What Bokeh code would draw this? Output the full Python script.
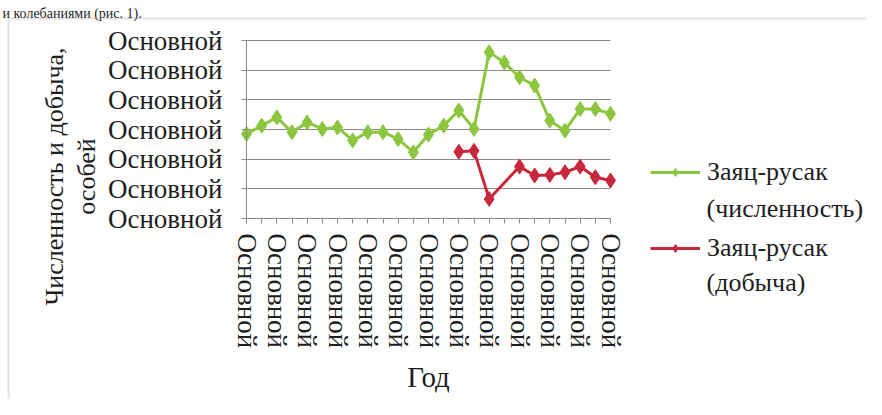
from bokeh.plotting import figure
from bokeh.models import (Range1d, FixedTicker, Label, Legend, LegendItem, BoxAnnotation, Grid)
from bokeh.embed import file_html
from bokeh.resources import INLINE
from bokeh.core import enums

# ---- data ----
categories = list(range(25))
tick_label = "Основной"
y_ticks = [0, 1, 2, 3, 4, 5, 6]
green_vals = [2.85, 3.13, 3.41, 2.91, 3.24, 3.02, 3.07, 2.63, 2.91, 2.91, 2.68, 2.23, 2.83,
              3.13, 3.64, 3.02, 5.60, 5.26, 4.76, 4.48, 3.30, 2.96, 3.69, 3.69, 3.53]
red_x = [14, 15, 16, 18, 19, 20, 21, 22, 23, 24]
red_vals = [2.25, 2.28, 0.66, 1.75, 1.45, 1.47, 1.56, 1.75, 1.39, 1.28]
green_name = "Заяц-русак"
green_sub = "(численность)"
red_name = "Заяц-русак"
red_sub = "(добыча)"
x_title = "Год"
y_title = "Численность и добыча,\nособей"
top_text = "и колебаниями (рис. 1)."

GREEN = "#8cc63f"
RED = "#c8283c"
GRID = "#8a8a8a"
TXT = "#1e1e1e"
FONT = "Liberation Serif"

W, H = 866, 399
X0, X24 = 246.0, 610.0     # pixel of first / last category
Y0, Y6 = 218.0, 40.0       # pixel of value 0 / value 6
U = (X24 - X0) / 24.0
V = (Y0 - Y6) / 6.0

def dx(px):
    return (px - X0) / U

def dy(py):
    return (Y0 - py) / V

p = figure(width=W, height=H, output_backend="svg", toolbar_location=None,
           x_range=Range1d(dx(0), dx(W)), y_range=Range1d(dy(H), dy(0)),
           min_border=0)
p.outline_line_color = None
p.background_fill_color = "white"
p.border_fill_color = "white"

# axes (placed at data location inside the frame)
p.xaxis.fixed_location = 0
p.yaxis.fixed_location = 0
p.xaxis.bounds = (categories[0], categories[-1])
p.yaxis.bounds = (y_ticks[0], y_ticks[-1])
p.xaxis.ticker = FixedTicker(ticks=categories)
p.xaxis.major_label_overrides = {i: (tick_label if i % 2 == 0 else "") for i in categories}
p.xaxis.major_label_orientation = "vertical"
p.yaxis.ticker = FixedTicker(ticks=y_ticks)
p.yaxis.major_label_overrides = {v: tick_label for v in y_ticks}
for ax in (p.xaxis, p.yaxis):
    ax.axis_line_color = GRID
    ax.major_tick_line_color = GRID
    ax.major_tick_out = 5
    ax.major_tick_in = 0
    ax.minor_tick_line_color = None
    ax.major_label_text_font = FONT
    ax.major_label_text_font_size = "27px"
    ax.major_label_text_color = TXT
p.xaxis.major_label_standoff = 10
p.yaxis.major_label_standoff = 19

p.xgrid.grid_line_color = None
p.ygrid.ticker = FixedTicker(ticks=y_ticks)
if "cross_bounds" in Grid.properties():
    p.ygrid.grid_line_color = GRID
    p.ygrid.grid_line_width = 1
    p.ygrid.cross_bounds = (categories[0], categories[-1])
else:
    p.ygrid.grid_line_color = None
    p.segment(x0=[categories[0]] * len(y_ticks), x1=[categories[-1]] * len(y_ticks),
              y0=y_ticks, y1=y_ticks, line_color=GRID, line_width=1)

# series
gl = p.line(categories, green_vals, line_color=GREEN, line_width=3)
gm = p.scatter(categories, green_vals, marker="diamond", size=15,
               fill_color=GREEN, line_color=GREEN)
rl = p.line(red_x, red_vals, line_color=RED, line_width=3)
rm = p.scatter(red_x, red_vals, marker="diamond", size=15,
               fill_color=RED, line_color=RED)

# legend
legend = Legend(items=[LegendItem(label=green_name, renderers=[gl, gm]),
                       LegendItem(label=red_name, renderers=[rl, rm])],
                location=(650, 136), orientation="vertical")
legend.padding = 0
legend.margin = 0
legend.border_line_color = None
legend.background_fill_alpha = 0
legend.glyph_width = 50
legend.glyph_height = 20
legend.label_standoff = 7
legend.spacing = 46
legend.label_text_font = FONT
legend.label_text_font_size = "26px"
legend.label_text_color = TXT
p.add_layout(legend, "center")

for txt, py in ((green_sub, 208), (red_sub, 282)):
    p.add_layout(Label(x=dx(706), y=dy(py), text=txt, text_font=FONT,
                       text_font_size="26px", text_color=TXT,
                       text_align="left", text_baseline="middle"))

p.add_layout(Label(x=dx(70), y=dy(176), text=y_title, angle=1.5708,
                   text_font=FONT, text_font_size="26px", text_color=TXT,
                   text_align="center", text_baseline="middle",
                   text_line_height=1.1))

p.add_layout(Label(x=dx(428), y=dy(376), text=x_title, text_font=FONT,
                   text_font_size="29px", text_color=TXT,
                   text_align="center", text_baseline="middle"))

p.add_layout(Label(x=dx(2), y=dy(13), text=top_text, text_font=FONT,
                   text_font_size="14px", text_color=TXT,
                   text_align="left", text_baseline="alphabetic"))

units = "canvas" if "canvas" in enums.CoordinateUnits else "screen"
p.add_layout(BoxAnnotation(left=8, right=W + 20, top=18, bottom=H + 20,
                           left_units=units, right_units=units,
                           top_units=units, bottom_units=units,
                           fill_alpha=0, line_color="#9a9a9a", line_width=2))

open("out.html", "w").write(file_html(p, INLINE))
